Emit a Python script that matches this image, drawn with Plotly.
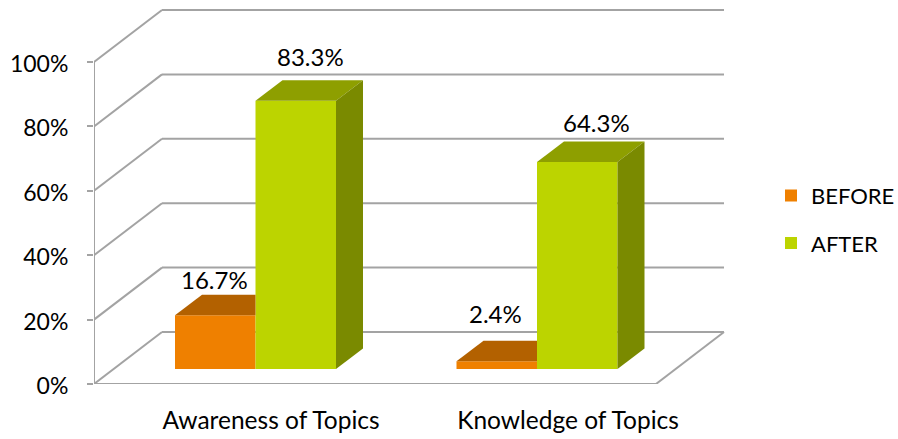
import plotly.graph_objects as go

categories = ["Awareness of Topics", "Knowledge of Topics"]
before_values = [16.7, 2.4]
after_values = [83.3, 64.3]
y_ticks = [0, 20, 40, 60, 80, 100]
y_tick_labels = ["0%", "20%", "40%", "60%", "80%", "100%"]

FONT = "Lato, Carlito, Calibri, sans-serif"
W, H = 898, 439
L, R, T, B = 94, 168, 0, 55
PX_PER_CAT = 281.5
PX_PER_PCT = 3.22
X_MIN = -161.5 / PX_PER_CAT
X_MAX = X_MIN + (W - L - R) / PX_PER_CAT
Y_MAX = (H - T - B) / PX_PER_PCT

# Oblique projection of the fake 3D box: whole-box depth, expressed in axis units
BOX_DX = 68 / PX_PER_CAT
BOX_DY = 52 / PX_PER_PCT
BAR_BASE = 15 / PX_PER_PCT          # front of the bars stands off the floor front
BAR_W = 80.5 / PX_PER_CAT
BAR_DX = 27 / PX_PER_CAT
BAR_DY = 20.5 / PX_PER_PCT
SPAN = 562 / PX_PER_CAT

ORANGE, ORANGE_TOP = "#EF8000", "#B36100"
GREEN, GREEN_TOP, GREEN_SIDE = "#BCD400", "#8E9F00", "#7A8A00"
GRID = "#A3A3A3"

fig = go.Figure()

# Back wall, left wall and floor lines
shapes = []
def seg(x0, y0, x1, y1):
    shapes.append(dict(type="line", xref="x", yref="y", layer="below",
                       x0=x0, y0=y0, x1=x1, y1=y1,
                       line=dict(color=GRID, width=2)))
for t in y_ticks:
    seg(X_MIN, t, X_MIN + BOX_DX, t + BOX_DY)
    seg(X_MIN + BOX_DX, t + BOX_DY, X_MIN + BOX_DX + SPAN, t + BOX_DY)
seg(X_MIN, 0, X_MIN, y_ticks[-1])
seg(X_MIN, 0, X_MIN + SPAN, 0)
seg(X_MIN + SPAN, 0, X_MIN + SPAN + BOX_DX, BOX_DY)

cat_x = list(range(len(categories)))

# Front faces
fig.add_bar(name="BEFORE", x=cat_x, y=before_values, base=BAR_BASE, width=BAR_W,
            offset=-BAR_W, marker=dict(color=ORANGE, line=dict(width=0)),
            legendgroup="b", hoverinfo="skip")
fig.add_bar(name="AFTER", x=cat_x, y=after_values, base=BAR_BASE, width=BAR_W,
            offset=0, marker=dict(color=GREEN, line=dict(width=0)),
            legendgroup="a", hoverinfo="skip")

def poly(xs, ys, color):
    fig.add_scatter(x=xs, y=ys, mode="lines", fill="toself", fillcolor=color,
                    line=dict(width=0, color=color), showlegend=False,
                    hoverinfo="skip")

# Top faces of the orange bars: the part right of the green front is hidden
for c, v in zip(cat_x, before_values):
    top = BAR_BASE + v
    poly([c - BAR_W, c, c, c - BAR_W + BAR_DX, c - BAR_W],
         [top, top, top + BAR_DY, top + BAR_DY, top], ORANGE_TOP)

# Top and side faces of the green bars
for c, v in zip(cat_x, after_values):
    top = BAR_BASE + v
    poly([c, c + BAR_W, c + BAR_W + BAR_DX, c + BAR_DX, c],
         [top, top, top + BAR_DY, top + BAR_DY, top], GREEN_TOP)
    poly([c + BAR_W, c + BAR_W + BAR_DX, c + BAR_W + BAR_DX, c + BAR_W, c + BAR_W],
         [BAR_BASE, BAR_BASE + BAR_DY, top + BAR_DY, top, BAR_BASE], GREEN_SIDE)

# Data labels, anchored to each bar's top with a pixel nudge
before_nudge = [(-0.5, 36), (-1.5, 48)]
after_nudge = [(15, 44), (19, 39)]
annotations = []
for c, v, (nx, ny) in zip(cat_x, before_values, before_nudge):
    annotations.append(dict(x=c - BAR_W / 2, y=BAR_BASE + v, text=f"{v}%",
                            showarrow=False, xshift=nx, yshift=ny,
                            font=dict(family=FONT, size=24, color="#000000")))
for c, v, (nx, ny) in zip(cat_x, after_values, after_nudge):
    annotations.append(dict(x=c + BAR_W / 2, y=BAR_BASE + v, text=f"{v}%",
                            showarrow=False, xshift=nx, yshift=ny,
                            font=dict(family=FONT, size=24, color="#000000")))

LABEL_SHIFT = [15.5 / PX_PER_CAT, 31 / PX_PER_CAT]

fig.update_layout(
    width=W, height=H, autosize=False,
    margin=dict(l=L, r=R, t=T, b=B, pad=0, autoexpand=False),
    paper_bgcolor="#FFFFFF", plot_bgcolor="#FFFFFF",
    barmode="overlay",
    shapes=shapes, annotations=annotations,
    font=dict(family=FONT, size=23, color="#000000"),
    xaxis=dict(range=[X_MIN, X_MAX], showgrid=False, zeroline=False, showline=False,
               tickmode="array", tickvals=[c + s for c, s in zip(cat_x, LABEL_SHIFT)],
               ticktext=categories, ticks="", ticklabelstandoff=19, tickangle=0,
               tickfont=dict(family=FONT, size=24.5, color="#000000")),
    yaxis=dict(range=[0, Y_MAX], showgrid=False, zeroline=False, showline=False,
               tickmode="array", tickvals=y_ticks, ticktext=y_tick_labels,
               ticks="outside", ticklen=6, tickwidth=2, tickcolor=GRID,
               ticklabelstandoff=14, ticklabelshift=2,
               tickfont=dict(family=FONT, size=23, color="#000000")),
    legend=dict(x=(791 - 20 - L) / (W - L - R), y=0.545, xanchor="left", yanchor="top",
                orientation="v", traceorder="grouped", tracegroupgap=16,
                itemwidth=30, font=dict(family=FONT, size=22, color="#000000"),
                bgcolor="rgba(0,0,0,0)"),
    showlegend=True,
)

fig.write_html("out.html", config=dict(displayModeBar=False),
               post_script="document.body.style.margin='0';document.documentElement.style.overflow='hidden';")
